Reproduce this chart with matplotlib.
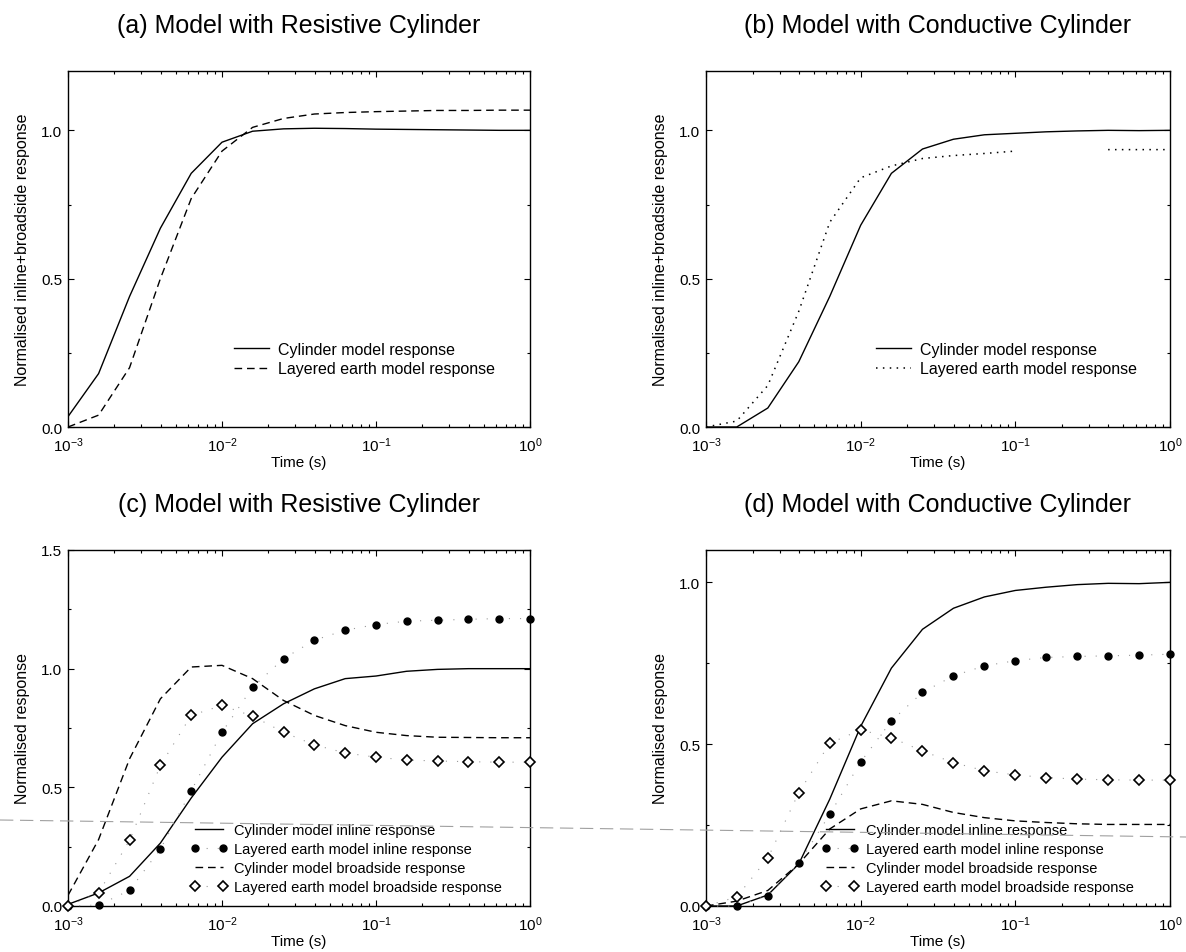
import numpy as np
import matplotlib
matplotlib.use("Agg")
import matplotlib.pyplot as plt
from matplotlib.lines import Line2D
from matplotlib.ticker import FormatStrFormatter, MultipleLocator, LogLocator

plt.rcParams['font.family'] = ['Liberation Sans', 'DejaVu Sans']
plt.rcParams['mathtext.fontset'] = 'custom'
plt.rcParams['mathtext.rm'] = 'Liberation Sans'

# Sample times (s), five per decade
time_s = [0.001, 0.00158, 0.00251, 0.00398, 0.00631, 0.01, 0.0158, 0.0251,
          0.0398, 0.0631, 0.1, 0.158, 0.251, 0.398, 0.631, 1.0]

# (a) resistive cylinder, inline+broadside
a_cylinder = [0.035, 0.18, 0.44, 0.67, 0.855, 0.96, 0.997, 1.005, 1.007, 1.006,
              1.004, 1.003, 1.002, 1.001, 1.0, 1.0]
a_layered = [0.0, 0.04, 0.2, 0.5, 0.77, 0.93, 1.01, 1.04, 1.055, 1.06,
             1.063, 1.065, 1.067, 1.067, 1.068, 1.068]

# (b) conductive cylinder, inline+broadside
b_cylinder = [0.0, 0.0, 0.064, 0.22, 0.44, 0.68, 0.855, 0.937, 0.97, 0.985,
              0.99, 0.995, 0.998, 1.0, 0.999, 1.0]
b_layered = [0.0, 0.02, 0.14, 0.39, 0.69, 0.84, 0.88, 0.905, 0.915, 0.922,
             0.93, np.nan, np.nan, 0.935, 0.935, 0.935]

# (c) resistive cylinder, separate components
c_cyl_inline = [0.007, 0.055, 0.125, 0.265, 0.455, 0.627, 0.768, 0.852, 0.915, 0.958,
                0.969, 0.989, 0.997, 1.0, 1.0, 1.0]
c_lay_inline = [0.0, 0.004, 0.066, 0.24, 0.485, 0.732, 0.922, 1.042, 1.12, 1.162,
                1.186, 1.2, 1.204, 1.208, 1.211, 1.211]
c_cyl_broad = [0.045, 0.28, 0.62, 0.873, 1.007, 1.014, 0.958, 0.866, 0.803, 0.76,
               0.732, 0.718, 0.711, 0.71, 0.709, 0.709]
c_lay_broad = [0.0, 0.055, 0.277, 0.592, 0.803, 0.845, 0.8, 0.732, 0.679, 0.645,
               0.627, 0.615, 0.611, 0.608, 0.606, 0.606]

# (d) conductive cylinder, separate components
d_cyl_inline = [0.0, 0.0, 0.034, 0.13, 0.33, 0.555, 0.735, 0.855, 0.92, 0.955,
                0.975, 0.985, 0.993, 0.997, 0.996, 1.0]
d_lay_inline = [0.0, 0.0, 0.032, 0.132, 0.283, 0.445, 0.572, 0.66, 0.711, 0.742,
                0.758, 0.768, 0.771, 0.773, 0.775, 0.778]
d_cyl_broad = [0.0, 0.015, 0.048, 0.13, 0.238, 0.3, 0.325, 0.314, 0.289, 0.273,
               0.263, 0.258, 0.254, 0.252, 0.252, 0.252]
d_lay_broad = [0.0, 0.028, 0.148, 0.35, 0.503, 0.544, 0.52, 0.479, 0.443, 0.418,
               0.405, 0.397, 0.392, 0.39, 0.389, 0.389]

titles = ["(a) Model with Resistive Cylinder", "(b) Model with Conductive Cylinder",
          "(c) Model with Resistive Cylinder", "(d) Model with Conductive Cylinder"]
sum_ylabel = "Normalised inline+broadside response"
comp_ylabel = "Normalised response"
xlabel = "Time (s)"

W, H = 1186, 953
fig = plt.figure(figsize=(W / 100, H / 100), dpi=100)


def px_axes(x0, x1, y0, y1):
    return fig.add_axes([x0 / W, 1 - y1 / H, (x1 - x0) / W, (y1 - y0) / H])


ax_a = px_axes(68, 530, 72, 428)
ax_b = px_axes(706, 1170, 72, 428)
ax_c = px_axes(68, 530, 551, 907)
ax_d = px_axes(706, 1170, 551, 907)

DASH = (5.5, 3.5)
DOT = (1.0, 3.5)
LINK = (0, (1.0, 9.0))


def style(ax, title, ylabel, ymax):
    ax.set_xscale('log')
    ax.set_xlim(1e-3, 1.0)
    ax.set_ylim(0, ymax)
    ax.yaxis.set_major_locator(MultipleLocator(0.5))
    ax.yaxis.set_minor_locator(MultipleLocator(0.25))
    ax.yaxis.set_major_formatter(FormatStrFormatter('%.1f'))
    ax.xaxis.set_minor_locator(LogLocator(base=10, subs=np.arange(2, 10)))
    ax.tick_params(which='both', direction='in', top=True, right=True, width=0.8)
    ax.tick_params(which='major', length=4)
    ax.tick_params(which='minor', length=2)
    ax.tick_params(axis='y', which='major', labelsize=11, pad=4)
    ax.tick_params(axis='x', which='major', labelsize=11, pad=6)
    for s in ax.spines.values():
        s.set_linewidth(1.0)
    ax.set_title(title, fontsize=18, pad=28)
    ax.set_xlabel(xlabel, fontsize=11, labelpad=1)
    ax.set_ylabel(ylabel, fontsize=11.5, labelpad=8)


# (a)
style(ax_a, titles[0], sum_ylabel, 1.2)
ax_a.plot(time_s, a_cylinder, color='black', lw=1.0, label='Cylinder model response')
ax_a.plot(time_s, a_layered, color='black', lw=1.0, dashes=DASH,
          label='Layered earth model response')
ax_a.legend(loc='upper left', bbox_to_anchor=(0.359, 0.24), frameon=False,
            fontsize=11.5, handlelength=2.2, handletextpad=0.55, labelspacing=0.3,
            borderpad=0, borderaxespad=0)

# (b)
style(ax_b, titles[1], sum_ylabel, 1.2)
ax_b.plot(time_s, b_cylinder, color='black', lw=1.0, label='Cylinder model response')
ax_b.plot(time_s, b_layered, color='black', lw=1.1, dashes=DOT,
          label='Layered earth model response')
ax_b.legend(loc='upper left', bbox_to_anchor=(0.367, 0.24), frameon=False,
            fontsize=11.5, handlelength=2.2, handletextpad=0.55, labelspacing=0.3,
            borderpad=0, borderaxespad=0)


def components(ax, cyl_in, lay_in, cyl_br, lay_br, anchor):
    ax.plot(time_s, cyl_in, color='black', lw=1.0,
            label='Cylinder model inline response')
    ax.plot(time_s, lay_in, color='#9a9a9a', lw=0.8, linestyle=LINK,
            marker='o', ms=5, mfc='black', mec='black', clip_on=False,
            label='Layered earth model inline response', zorder=3)
    ax.plot(time_s, cyl_br, color='black', lw=1.0, dashes=DASH,
            label='Cylinder model broadside response')
    ax.plot(time_s, lay_br, color='#9a9a9a', lw=0.8, linestyle=LINK,
            marker='D', ms=5, mfc='white', mec='black', mew=1.2, clip_on=False,
            label='Layered earth model broadside response', zorder=3)
    ax.legend(loc='upper left', bbox_to_anchor=anchor, frameon=False,
              fontsize=10.5, handlelength=2.5, handletextpad=0.5, labelspacing=0.36,
              borderpad=0, borderaxespad=0, numpoints=2)


style(ax_c, titles[2], comp_ylabel, 1.5)
components(ax_c, c_cyl_inline, c_lay_inline, c_cyl_broad, c_lay_broad, (0.265, 0.234))

style(ax_d, titles[3], comp_ylabel, 1.1)
components(ax_d, d_cyl_inline, d_lay_inline, d_cyl_broad, d_lay_broad, (0.25, 0.234))

# faint dashed rule running across the lower panels
fig.add_artist(Line2D([0, 1], [1 - 821 / H, 1 - 838 / H], transform=fig.transFigure,
                      color='#a0a0a0', lw=0.8, dashes=(12, 6), zorder=10))

fig.savefig('out.png', dpi=100)
